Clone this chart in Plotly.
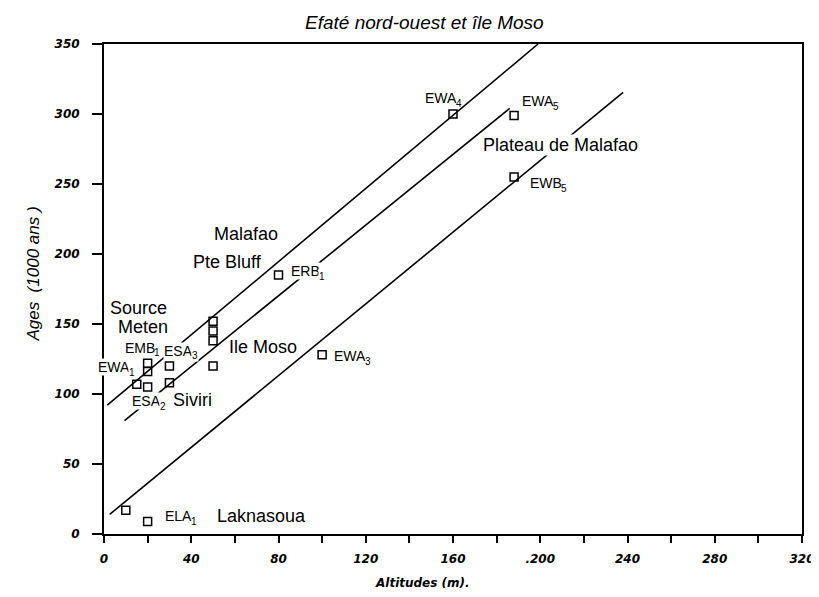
import plotly.graph_objects as go

# ---- data ----
altitudes = [10, 15, 20, 20, 20, 20, 30, 30, 50, 50, 50, 50, 80, 100, 160, 188, 188]
ages = [17, 107, 9, 105, 116, 122, 108, 120, 120, 138, 145, 152, 185, 128, 300, 299, 255]

upper_x = [1.5, 199]
upper_y = [92, 350]
middle_x = [9.4, 186]
middle_y = [81, 304]
lower_x = [2.6, 238]
lower_y = [14, 315.5]

sample_names = ["EWA", "EMB", "ESA", "ESA", "ERB", "EWA", "EWA", "EWA", "EWB", "ELA"]
sample_subs = ["1", "1", "3", "2", "1", "3", "4", "5", "5", "1"]
sample_x = [6.3, 17.7, 35.4, 20.4, 93.7, 114.4, 156.4, 201, 204.3, 35]
sample_y = [119, 132.9, 131, 94.8, 187.6, 126.9, 311.4, 309, 250.7, 12.6]
sample_mask = [True, False, True, True, True, False, False, False, False, False]

place_labels = ["Source", "Meten", "Ile Moso", "Siviri", "Malafao", "Pte Bluff",
                "Plateau de Malafao", "Laknasoua"]
place_x = [15.7, 17.7, 72.8, 40.5, 65.3, 56.7, 209.4, 72.1]
place_y = [161.4, 147.6, 133.3, 95.5, 214.3, 194.3, 277.6, 12.6]
place_mask = [False, False, False, False, False, False, True, False]

x_ticks = [0, 40, 80, 120, 160, 200, 240, 280, 320]
x_tick_text = ["0", "40", "80", "120", "160", ".200", "240", "280", "320"]
y_ticks = [0, 50, 100, 150, 200, 250, 300, 350]

title_text = "Efaté nord-ouest et île Moso"
x_title = "Altitudes (m)."
y_title = "Ages\u00a0\u00a0(1000 ans\u00a0)"

fig = go.Figure()

for lx, ly in [(upper_x, upper_y), (middle_x, middle_y), (lower_x, lower_y)]:
    fig.add_trace(go.Scatter(x=lx, y=ly, mode="lines",
                             line=dict(color="black", width=1.6),
                             showlegend=False, hoverinfo="skip"))

fig.add_trace(go.Scatter(x=altitudes, y=ages, mode="markers",
                         marker=dict(symbol="square-open", size=8,
                                     color="black", line=dict(width=1.5, color="black")),
                         showlegend=False))

label_font = dict(family="Liberation Sans, Arial", size=14, color="black")
sub_font = dict(family="Liberation Sans, Arial", size=10, color="black")

annotations = []
for name, sub, x, y, m in zip(sample_names, sample_subs, sample_x, sample_y, sample_mask):
    bg = "white" if m else "rgba(0,0,0,0)"
    annotations.append(dict(text=name, x=x, y=y, xref="x", yref="y", showarrow=False,
                            xanchor="right", yanchor="middle", xshift=13,
                            font=label_font, bgcolor=bg, borderpad=0))
    annotations.append(dict(text=sub, x=x, y=y, xref="x", yref="y", showarrow=False,
                            xanchor="left", yanchor="middle", xshift=10, yshift=-5,
                            font=sub_font, bgcolor=bg, borderpad=0))
for t, x, y, m in zip(place_labels, place_x, place_y, place_mask):
    annotations.append(dict(text=t, x=x, y=y, xref="x", yref="y", showarrow=False,
                            xanchor="center", yanchor="middle",
                            font=dict(family="Liberation Sans, Arial", size=18, color="black"),
                            bgcolor="white" if m else "rgba(0,0,0,0)", borderpad=0))

annotations.append(dict(text=title_text, x=0.459, y=1.043, xref="paper", yref="paper",
                        showarrow=False, xanchor="center", yanchor="middle",
                        font=dict(family="Liberation Sans, Arial", size=19, color="black",
                                  style="italic")))
annotations.append(dict(text=x_title, x=0.456, y=-0.1, xref="paper", yref="paper",
                        showarrow=False, xanchor="center", yanchor="middle",
                        font=dict(family="DejaVu Sans", size=12, color="black",
                                  style="italic", weight="bold")))
annotations.append(dict(text=y_title, x=-0.1006, y=0.531, xref="paper", yref="paper",
                        showarrow=False, textangle=-90, xanchor="center", yanchor="middle",
                        font=dict(family="Liberation Sans, Arial", size=17, color="black",
                                  style="italic")))

tickfont = dict(family="DejaVu Sans", size=12, color="black", style="italic", weight="bold")

fig.update_layout(
    width=819, height=597,
    margin=dict(l=96, r=17, t=36, b=71),
    paper_bgcolor="white", plot_bgcolor="white",
    annotations=annotations,
    xaxis=dict(range=[0, 320], tickvals=x_ticks, ticktext=x_tick_text,
               showgrid=False, zeroline=False, showline=True, mirror=True,
               linecolor="black", linewidth=2, ticks="outside", ticklen=7,
               tickwidth=1.5, tickcolor="black", tickfont=tickfont,
               ticklabelstandoff=6,
               minor=dict(dtick=20, tick0=0, ticks="outside", ticklen=7,
                          tickwidth=1.5, tickcolor="black", showgrid=False)),
    yaxis=dict(range=[0, 350], tickvals=y_ticks,
               showgrid=False, zeroline=False, showline=True, mirror=True,
               linecolor="black", linewidth=2, ticks="outside", ticklen=10,
               tickwidth=1.5, tickcolor="black", tickfont=tickfont,
               ticklabelstandoff=10),
)

fig.write_html("out.html")
